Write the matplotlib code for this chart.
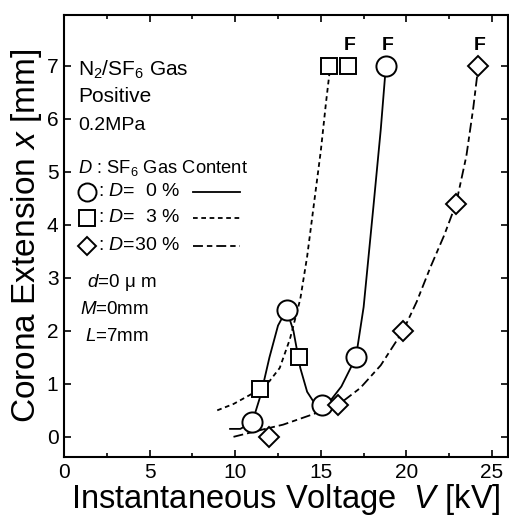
import matplotlib
matplotlib.use("Agg")
import matplotlib.pyplot as plt
from matplotlib.lines import Line2D

plt.rcParams['font.family'] = ['Liberation Sans', 'DejaVu Sans']
plt.rcParams['mathtext.fontset'] = 'custom'
plt.rcParams['mathtext.rm'] = 'Liberation Sans'
plt.rcParams['mathtext.it'] = 'Liberation Sans:italic'
plt.rcParams['mathtext.bf'] = 'Liberation Sans:bold'

# ---- measured points ----
v_d0 = [11.0, 13.0, 15.05, 17.05, 18.8]
x_d0 = [0.28, 2.4, 0.6, 1.5, 7.0]
v_d3 = [11.45, 13.7, 15.5, 16.6]
x_d3 = [0.9, 1.5, 7.0, 7.0]
v_d30 = [11.95, 16.0, 19.8, 22.9, 24.2]
x_d30 = [0.0, 0.6, 2.0, 4.4, 7.0]

# ---- trend curves ----
cv_d0 = [9.7, 10.3, 11.0, 11.5, 12.0, 12.5, 13.0, 13.4, 13.8, 14.2, 14.6, 15.05,
         15.6, 16.2, 17.05, 17.5, 18.07, 18.5, 18.8]
cx_d0 = [0.15, 0.15, 0.28, 0.8, 1.5, 2.1, 2.4, 2.0, 1.3, 0.85, 0.65, 0.6,
         0.7, 0.95, 1.5, 2.45, 4.34, 5.8, 7.0]
cv_d3 = [8.95, 9.9, 10.8, 11.45, 12.0, 12.6, 13.2, 13.8, 14.2, 14.56, 15.0, 15.3, 15.5]
cx_d3 = [0.5, 0.62, 0.78, 0.9, 1.05, 1.3, 1.85, 2.6, 3.4, 4.3, 5.4, 6.3, 6.85]
cv_d30 = [9.9, 11.5, 12.8, 14.4, 16.0, 17.3, 18.5, 19.8, 20.6, 21.4, 22.2, 22.9,
          23.5, 23.9, 24.2]
cx_d30 = [0.0, 0.13, 0.23, 0.41, 0.6, 0.92, 1.35, 2.0, 2.55, 3.2, 3.8, 4.4,
          5.3, 6.2, 7.0]

# breakdown ("F") points
f_v = [16.6, 18.8, 24.2]
f_x = [7.0, 7.0, 7.0]

x_ticks = [0, 5, 10, 15, 20, 25]
y_ticks = [0, 1, 2, 3, 4, 5, 6, 7]

fig = plt.figure(figsize=(5.09, 5.20), dpi=100)
ax = fig.add_axes([0.1257, 0.1212, 0.8723, 0.85])
ax.set_xlim(0, 25.93)
ax.set_ylim(-0.38, 7.96)

lw = 1.3
ax.plot(cv_d0, cx_d0, color='black', lw=lw, zorder=2)
ax.plot(cv_d3, cx_d3, color='black', lw=lw, dashes=(2.6, 2.0), zorder=2)
ax.plot(cv_d30, cx_d30, color='black', lw=lw, dashes=(5.5, 2.2, 3.0, 2.2), zorder=2)

mk = dict(color='black', markerfacecolor='white', markeredgecolor='black',
          markeredgewidth=1.4, linestyle='none', zorder=3)
ax.plot(v_d0, x_d0, marker='o', markersize=14.5, **mk)
ax.plot(v_d3, x_d3, marker='s', markersize=12, **mk)
ax.plot(v_d30, x_d30, marker='D', markersize=10, **mk)

for fv, fx in zip(f_v, f_x):
    ax.annotate('F', (fv, fx), xytext=(1, 15), textcoords='offset points',
                ha='center', va='center', fontsize=14, fontweight='bold')

ax.set_xticks(x_ticks)
ax.set_xticks([2.5, 7.5, 12.5, 17.5, 22.5], minor=True)
ax.set_yticks(y_ticks)
ax.tick_params(which='both', direction='in', top=True, right=True, width=1.2)
ax.tick_params(which='major', length=5, labelsize=15, pad=4)
ax.tick_params(which='minor', length=3)
for s in ax.spines.values():
    s.set_linewidth(1.5)

ax.set_xlabel('Instantaneous Voltage  $V$ [kV]', fontsize=23.5, labelpad=0)
ax.set_ylabel('Corona Extension $x$ [mm]', fontsize=24, labelpad=2)

T = ax.transAxes
ax.text(0.0315, 0.8756, 'N$_2$/SF$_6$ Gas', transform=T, fontsize=15, va='center')
ax.text(0.0315, 0.8145, 'Positive', transform=T, fontsize=15, va='center')
ax.text(0.0315, 0.749, '0.2MPa', transform=T, fontsize=14, va='center')
ax.text(0.0315, 0.654, '$D$ : SF$_6$ Gas Content', transform=T, fontsize=13.2, va='center')

rows = [(0.5995, 'o', 13, ': $D$=  0 %', '-'),
        (0.5407, 's', 11, ': $D$=  3 %', (0, (2.6, 2.0))),
        (0.4774, 'D', 9.5, ': $D$=30 %', (0, (5.5, 2.2, 3.0, 2.2)))]
for y, m, ms, lab, ls in rows:
    ax.add_line(Line2D([0.0518], [y], transform=T, marker=m, markersize=ms,
                       markerfacecolor='white', markeredgecolor='black',
                       markeredgewidth=1.4, linestyle='none'))
    ax.text(0.0766, y, lab, transform=T, fontsize=14, va='center')
    ax.add_line(Line2D([0.2905, 0.3964], [y, y], transform=T, color='black',
                       lw=lw, linestyle=ls))

ax.text(0.0518, 0.3937, '$d$=0 μ m', transform=T, fontsize=13.5, va='center')
ax.text(0.036, 0.3326, '$M$=0mm', transform=T, fontsize=13.5, va='center')
ax.text(0.0473, 0.2715, '$L$=7mm', transform=T, fontsize=13.5, va='center')

fig.savefig('out.png', dpi=100)
